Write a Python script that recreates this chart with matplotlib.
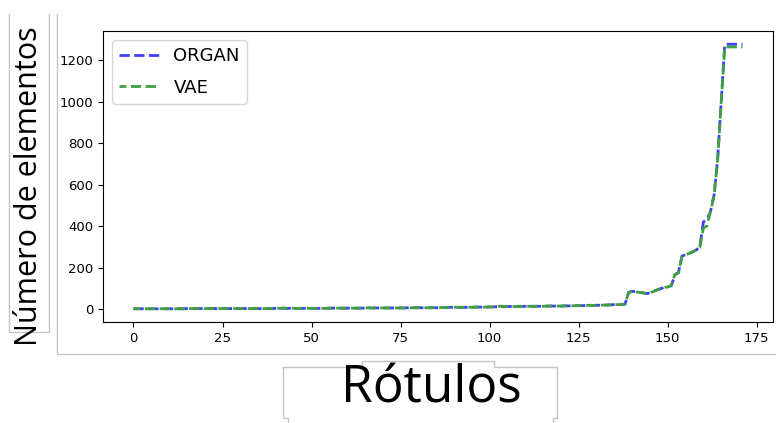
import matplotlib.pyplot as plt
from matplotlib.lines import Line2D
import numpy as np

# element count per label, sorted
organ = [1, 1, 1, 1, 1, 1, 1, 1, 1, 1,
         1, 1, 1, 1, 1, 2, 2, 2, 2, 2,
         2, 2, 2, 2, 2, 2, 2, 2, 2, 2,
         2, 2, 2, 2, 2, 2, 2, 2, 2, 2,
         3, 3, 3, 3, 3, 3, 3, 3, 3, 3,
         3, 3, 3, 3, 3, 4, 4, 4, 4, 4,
         4, 4, 4, 4, 4, 4, 4, 5, 5, 5,
         5, 5, 5, 5, 5, 5, 5, 6, 6, 6,
         6, 6, 6, 6, 6, 6, 7, 7, 7, 8,
         8, 8, 8, 8, 8, 8, 9, 9, 9, 9,
         10, 10, 11, 11, 11, 12, 12, 12, 12, 12,
         13, 13, 13, 13, 13, 13, 14, 14, 14, 14,
         14, 15, 15, 15, 16, 16, 16, 17, 17, 17,
         18, 18, 19, 19, 20, 21, 21, 22, 23, 80,
         85, 84, 80, 78, 74, 78, 85, 92, 98, 103,
         106, 112, 165, 175, 255, 262, 268, 275, 285, 300,
         420, 430, 470, 550, 720, 1000, 1277, 1277, 1277, 1277,
         1277, 1277]

vae = [1, 1, 1, 1, 1, 1, 1, 1, 1, 1,
       1, 1, 1, 1, 1, 3, 2, 2, 2, 2,
       2, 2, 2, 2, 2, 2, 2, 2, 2, 2,
       2, 2, 2, 2, 2, 2, 2, 2, 2, 2,
       3, 3, 5, 4, 3, 3, 3, 3, 3, 3,
       3, 3, 3, 3, 3, 4, 4, 4, 4, 4,
       4, 4, 4, 4, 4, 4, 6, 5, 5, 5,
       5, 5, 5, 5, 5, 5, 5, 6, 6, 6,
       6, 6, 6, 6, 6, 6, 7, 7, 7, 11,
       9, 8, 8, 8, 8, 8, 9, 9, 9, 9,
       10, 10, 11, 14, 12, 12, 12, 12, 12, 12,
       13, 13, 13, 13, 13, 13, 14, 14, 14, 14,
       14, 15, 15, 15, 16, 16, 16, 17, 18, 17,
       18, 18, 19, 19, 20, 21, 21, 22, 23, 78,
       86, 82, 80, 77, 76, 79, 84, 92, 98, 104,
       106, 114, 166, 175, 253, 262, 268, 276, 285, 298,
       390, 400, 470, 545, 715, 995, 1264, 1264, 1264, 1264,
       1264, 1264]

labels = np.arange(len(organ))

W, H = 776, 423
fig = plt.figure(figsize=(W / 100, H / 100), dpi=100)
ax = fig.add_axes([103 / W, 1 - 322 / H, 670 / W, 291 / H])

ax.plot(labels, organ, color='#4040ff', ls=(0, (3.7, 1.6)), lw=2, label='ORGAN')
ax.plot(labels, vae, color='#40a040', ls=(1.2, (3.7, 1.6)), lw=2, label='VAE')
ax.tick_params(labelsize=9.5)
ax.legend(fontsize=13, handlelength=2.2, labelspacing=0.75, loc='upper left')

# big axis labels pasted on the side
fig.text(29 / W, 1 - 186 / H, 'Número de elementos', rotation=90,
         ha='center', va='center', fontsize=22, family=['Open Sans', 'DejaVu Sans'])
fig.text(431 / W, 1 - 402 / H, 'Rótulos', ha='center', va='baseline',
         fontsize=37, family=['Open Sans', 'DejaVu Sans'])

# light grey frames from the screenshot
def frame(xs, ys):
    fig.add_artist(Line2D([x / W for x in xs], [1 - y / H for y in ys],
                          color='#c4c4c4', lw=1, transform=fig.transFigure))

frame([57, 57, 776], [14, 354, 354])
frame([9, 9, 49, 49], [14, 332, 332, 14])
frame([288, 288, 283, 283, 362, 362, 494, 494, 557, 557, 553, 553],
      [423, 418, 418, 367, 367, 361, 361, 367, 367, 418, 418, 423])

fig.savefig('out.png', dpi=100)
